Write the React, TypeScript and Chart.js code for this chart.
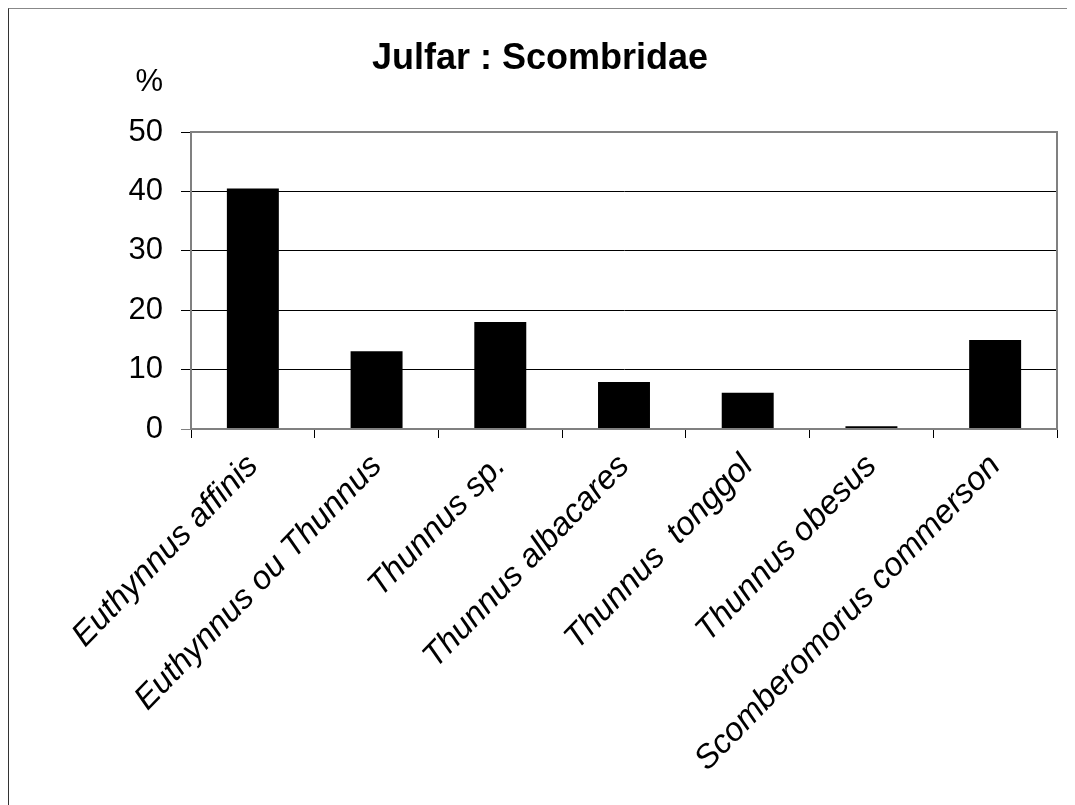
import React, { useEffect, useRef } from "react";
import { Chart, registerables } from "chart.js";

Chart.register(...registerables);

const chartTitle = "Julfar : Scombridae";
const yUnit = "%";
const categories = [
  "Euthynnus affinis",
  "Euthynnus ou Thunnus",
  "Thunnus sp.",
  "Thunnus albacares",
  "Thunnus  tonggol",
  "Thunnus obesus",
  "Scomberomorus commerson",
];
const percentValues = [40.5, 13.1, 18.0, 7.9, 6.1, 0.45, 15.0];
const yTicks = [0, 10, 20, 30, 40, 50];

const FONT = '"Liberation Sans", Arial, Helvetica, sans-serif';

export default function App() {
  const canvasRef = useRef<HTMLCanvasElement | null>(null);

  useEffect(() => {
    document.documentElement.style.overflow = "hidden";
    document.body.style.overflow = "hidden";
    const canvas = canvasRef.current;
    if (!canvas) return;

    const textPlugin = {
      id: "textPlugin",
      afterDraw(chart: any) {
        const { ctx, chartArea } = chart;
        ctx.save();
        ctx.strokeStyle = "#808080";
        ctx.lineWidth = 2;
        ctx.strokeRect(chartArea.left, chartArea.top, chartArea.right - chartArea.left, chartArea.bottom - chartArea.top);
        ctx.fillStyle = "#000";
        ctx.font = `bold 36px ${FONT}`;
        ctx.textAlign = "center";
        ctx.textBaseline = "alphabetic";
        ctx.fillText(chartTitle, 531, 60);
        ctx.font = `31px ${FONT}`;
        ctx.textAlign = "right";
        ctx.fillText(yUnit, chartArea.left - 28, 82);
        ctx.restore();
      },
    };

    const chart = new Chart(canvas, {
      type: "bar",
      data: {
        labels: categories,
        datasets: [
          {
            data: percentValues,
            backgroundColor: "#000000",
            borderWidth: 0,
            barPercentage: 0.42,
            categoryPercentage: 1,
          },
        ],
      },
      options: {
        responsive: false,
        animation: false,
        devicePixelRatio: 1,
        layout: { padding: { top: 123, right: 18, left: 0, bottom: 0 } },
        plugins: {
          legend: { display: false },
          title: { display: false },
          tooltip: { enabled: false },
        },
        scales: {
          x: {
            offset: true,
            grid: {
              display: true,
              offset: true,
              drawOnChartArea: false,
              drawTicks: true,
              tickLength: 9,
              color: "#000",
              lineWidth: 1,
            },
            border: { display: true, color: "#808080", width: 2 },
            ticks: {
              autoSkip: false,
              maxRotation: 46,
              minRotation: 46,
              padding: 9,
              color: "#000",
              font: { family: FONT, size: 33, style: "italic" },
            },
            afterFit(scale: any) {
              scale.height = 376;
            },
          },
          y: {
            min: 0,
            max: 50,
            afterBuildTicks(scale: any) {
              scale.ticks = yTicks.map((v) => ({ value: v }));
            },
            grid: {
              color: (c: any) => (c.tick && c.tick.value === 0 ? "#808080" : "#000"),
              lineWidth: 1,
              drawTicks: true,
              tickLength: 10,
            },
            border: { display: true, color: "#808080", width: 2 },
            ticks: {
              padding: 18,
              color: "#000",
              font: { family: FONT, size: 31 },
            },
            afterFit(scale: any) {
              scale.width = 182;
            },
          },
        },
      },
      plugins: [textPlugin],
    });

    return () => {
      chart.destroy();
    };
  }, []);

  return (
    <div
      style={{
        position: "relative",
        width: 1066,
        height: 796,
        borderLeft: "1px solid #333",
        borderTop: "1px solid #888",
        background: "#fff",
      }}
    >
      <canvas ref={canvasRef} width={1066} height={796} style={{ display: "block" }} />
    </div>
  );
}
